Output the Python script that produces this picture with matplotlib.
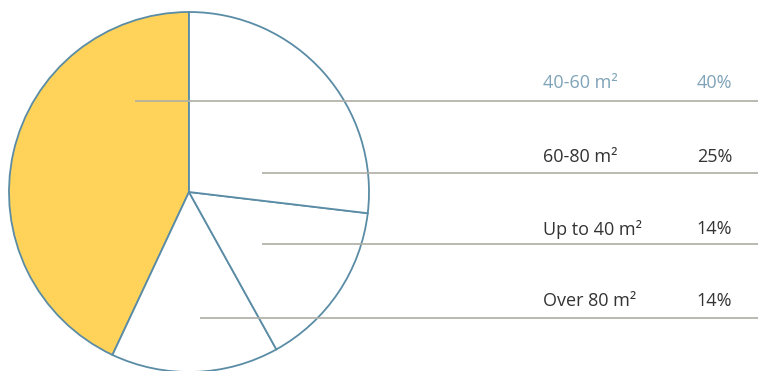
import matplotlib.pyplot as plt

plt.rcParams["font.family"] = ["Open Sans", "DejaVu Sans"]

labels = ["40-60 m\u00b2", "Up to 40 m\u00b2", "Over 80 m\u00b2", "60-80 m\u00b2"]
shares = [40, 14, 14, 25]
wedge_colors = ["#ffd35a", "white", "white", "white"]

# legend rows, top to bottom
row_labels = ["40-60 m\u00b2", "60-80 m\u00b2", "Up to 40 m\u00b2", "Over 80 m\u00b2"]
row_values = [40, 25, 14, 14]
row_colors = ["#7fa3b8", "#333333", "#333333", "#333333"]

W, H = 758, 371
EDGE = "#5a8ca6"
RULE = "#aeaea4"

# layout in pixels (top-left origin)
center = (189, 192)
radius = 180
rule_y = [100.7, 172.7, 243.5, 318]
rule_x0 = [135, 262, 262, 200]
text_y = [82.5, 157.5, 229.5, 301.5]
label_x = 543
value_x = 732

fig = plt.figure(figsize=(W / 100, H / 100), dpi=100)
ax = fig.add_axes([0, 0, 1, 1])

ax.pie(
    shares,
    colors=wedge_colors,
    startangle=90,
    counterclock=True,
    center=(center[0], H - center[1]),
    radius=radius,
    wedgeprops={"edgecolor": EDGE, "linewidth": 1.3},
    frame=True,
)
ax.set_xlim(0, W)
ax.set_ylim(0, H)
ax.set_aspect("equal")
ax.axis("off")

for i, (lab, val, col) in enumerate(zip(row_labels, row_values, row_colors)):
    ax.hlines(H - rule_y[i], rule_x0[i], W, color=RULE, linewidth=1.2, zorder=5)
    ax.text(label_x, H - text_y[i], lab, color=col, fontsize=13,
            ha="left", va="center")
    ax.text(value_x, H - text_y[i], f"{val}%", color=col, fontsize=13,
            ha="right", va="center")

fig.savefig("out.png", dpi=100)
